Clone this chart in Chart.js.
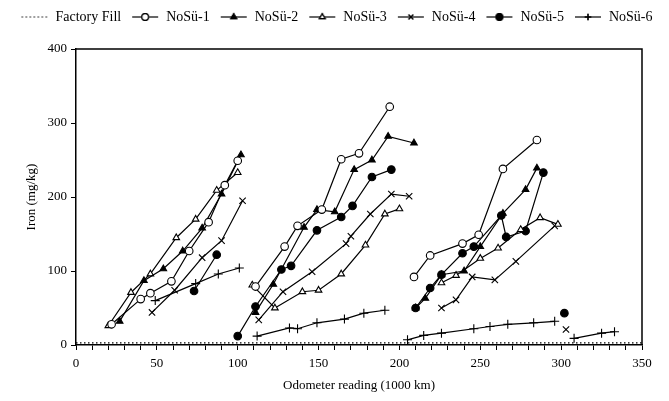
<!DOCTYPE html>
<html>
<head>
<meta charset="utf-8">
<script src="https://cdn.jsdelivr.net/npm/chart.js@4/dist/chart.umd.min.js"></script>
<style>
  html, body { margin: 0; padding: 0; background: #fff; }
  #wrap { width: 669px; height: 401px; }
</style>
</head>
<body>
<div id="wrap"><canvas id="chart" width="669" height="401"></canvas></div>
<script>
// values: [odometer (1000 km), iron (mg/kg)], null = break between oil fills
const factoryFill = [[0, 3], [350, 3]];
const nosu1 = [[22, 28], [40, 62], [46, 70], [59, 86], [70, 127], [82, 166], [92, 216], [100, 249], null,
  [111, 79], [129, 133], [137, 161], [152, 183], [164, 251], [175, 259], [194, 322], null,
  [209, 92], [219, 121], [239, 137], [249, 149], [264, 238], [285, 277]];
const nosu2 = [[27, 32], [42, 87], [54, 103], [66, 127], [78, 158], [90, 204], [102, 257], null,
  [111, 44], [122, 82], [141, 159], [149, 183], [160, 180], [172, 237], [183, 250], [193, 282], [209, 273], null,
  [210, 50], [216, 63], [226, 95], [240, 100], [250, 133], [264, 178], [278, 210], [285, 239]];
const nosu3 = [[20, 26], [34, 71], [46, 96], [62, 145], [74, 170], [87, 209], [100, 233], null,
  [109, 81], [123, 50], [140, 72], [150, 74], [164, 96], [179, 135], [191, 177], [200, 184], null,
  [226, 84], [235, 94], [250, 117], [261, 131], [275, 156], [287, 172], [298, 163]];
const nosu4 = [[47, 44], [61, 74], [78, 118], [90, 141], [103, 195], null,
  [113, 34], [128, 72], [146, 99], [167, 137], [170, 147], [182, 177], [195, 204], [206, 201], null,
  [226, 50], [235, 61], [245, 92], [259, 88], [272, 113], [296, 161], null,
  [303, 21]];
const nosu5 = [[73, 73], [87, 122], null,
  [100, 12], [111, 52], [127, 102], [133, 107], [149, 155], [164, 173], [171, 188], [183, 227], [195, 237], null,
  [210, 50], [219, 77], [226, 95], [239, 124], [246, 133], [263, 175], [266, 146], [278, 154], [289, 233], null,
  [302, 43]];
const nosu6 = [[49, 60], [74, 83], [88, 96], [101, 104], null,
  [112, 12], [132, 23], [137, 22], [149, 30], [166, 35], [178, 43], [191, 47], null,
  [205, 7], [215, 13], [226, 16], [246, 22], [256, 25], [267, 28], [283, 30], [296, 32], null,
  [308, 9], [325, 16], [333, 18]];
const xTicks = [0, 50, 100, 150, 200, 250, 300, 350];
const yTicks = [0, 100, 200, 300, 400];

const FONT = '"Liberation Serif", "Times New Roman", serif';

// turn [x, y] pairs into points, nulls become gaps
const toPoints = (arr) => {
  let lastX = 0;
  return arr.map(p => {
    if (p === null) return { x: lastX, y: null };
    lastX = p[0];
    return { x: p[0], y: p[1] };
  });
};

const series = [
  { label: 'Factory Fill', data: factoryFill, style: false, fill: false, dash: [1.5, 2.5] },
  { label: 'NoSü-1', data: nosu1, style: 'circle', fill: false },
  { label: 'NoSü-2', data: nosu2, style: 'triangle', fill: true },
  { label: 'NoSü-3', data: nosu3, style: 'triangle', fill: false },
  { label: 'NoSü-4', data: nosu4, style: 'crossRot', fill: false },
  { label: 'NoSü-5', data: nosu5, style: 'circle', fill: true },
  { label: 'NoSü-6', data: nosu6, style: 'cross', fill: false }
];

const markerRadius = (s) => (s.style === 'cross' || s.style === 'crossRot') ? 4.5 : 3.8;

// little line + marker picture for the legend
const legendSample = (s) => {
  const c = document.createElement('canvas');
  c.width = 28; c.height = 12;
  const g = c.getContext('2d');
  g.strokeStyle = '#000';
  g.lineWidth = 1.2;
  if (s.dash) g.setLineDash(s.dash);
  g.beginPath(); g.moveTo(1, 6); g.lineTo(27, 6); g.stroke();
  g.setLineDash([]);
  if (s.style) {
    Chart.helpers.drawPoint(g, {
      pointStyle: s.style, radius: 3.3, rotation: 0, borderWidth: 1.1
    }, 14, 6);
    g.fillStyle = s.fill ? '#000' : '#fff';
    g.fill();
    g.stroke();
  }
  return c;
};

const datasets = series.map(s => ({
  label: s.label,
  data: toPoints(s.data),
  borderColor: '#000',
  borderWidth: 1.2,
  borderDash: s.dash || [],
  backgroundColor: s.fill ? '#000' : '#fff',
  pointStyle: s.style || false,
  pointRadius: s.style ? markerRadius(s) : 0,
  pointBorderWidth: 1.1,
  pointBorderColor: '#000',
  pointBackgroundColor: s.fill ? '#000' : '#fff',
  pointHoverRadius: 0,
  spanGaps: false,
  tension: 0,
  fill: false,
  legendImage: legendSample(s)
}));

// top and right border of the plot frame
const frame = {
  id: 'frame',
  afterDraw(chart) {
    const { ctx, chartArea: a } = chart;
    ctx.save();
    ctx.strokeStyle = '#000';
    ctx.lineWidth = 1.5;
    ctx.beginPath();
    ctx.moveTo(a.left, a.top);
    ctx.lineTo(a.right, a.top);
    ctx.lineTo(a.right, a.bottom);
    ctx.stroke();
    ctx.restore();
  }
};

// fixed legend height so the plot top lands where it should
const legendHeight = {
  id: 'legendHeight',
  beforeInit(chart) {
    const fit = chart.legend.fit;
    chart.legend.fit = function () {
      fit.call(this);
      this.height = 49;
    };
  }
};

new Chart(document.getElementById('chart'), {
  type: 'line',
  data: { datasets },
  plugins: [frame, legendHeight],
  options: {
    responsive: false,
    animation: false,
    layout: { padding: { left: 4, right: 0, top: 0, bottom: 4 } },
    plugins: {
      tooltip: { enabled: false },
      legend: {
        position: 'top',
        labels: {
          color: '#000',
          font: { family: FONT, size: 14 },
          usePointStyle: true,
          pointStyleWidth: 28,
          padding: 10,
          generateLabels(chart) {
            return chart.data.datasets.map((d, i) => ({
              text: d.label,
              pointStyle: d.legendImage,
              fillStyle: '#fff',
              strokeStyle: '#000',
              lineWidth: 0,
              hidden: false,
              datasetIndex: i,
              fontColor: '#000'
            }));
          }
        }
      }
    },
    scales: {
      x: {
        type: 'linear',
        min: 0,
        max: 350,
        afterBuildTicks(scale) {
          scale.ticks = [];
          for (let v = 0; v <= 350; v += 10) scale.ticks.push({ value: v });
        },
        ticks: {
          color: '#000',
          font: { family: FONT, size: 13 },
          autoSkip: false,
          maxRotation: 0,
          padding: 6,
          callback: (v) => xTicks.includes(v) ? String(v) : ''
        },
        grid: { drawOnChartArea: false, color: '#000', tickLength: 5, tickWidth: 1 },
        border: { display: true, color: '#000', width: 1.5 },
        title: { display: true, text: 'Odometer reading (1000 km)', color: '#000', font: { family: FONT, size: 13 }, padding: { top: 11 } },
        afterFit(scale) { scale.height = 52; }
      },
      y: {
        type: 'linear',
        min: 0,
        max: 400,
        afterBuildTicks(scale) { scale.ticks = yTicks.map(v => ({ value: v })); },
        ticks: { color: '#000', font: { family: FONT, size: 13 }, padding: 4 },
        grid: { drawOnChartArea: false, color: '#000', tickLength: 5 },
        border: { display: true, color: '#000', width: 1.5 },
        title: { display: true, text: 'Iron (mg/kg)', color: '#000', font: { family: FONT, size: 13 }, padding: { top: 20, bottom: 4 } },
        afterFit(scale) { scale.width = 72; }
      },
      // empty right-hand strip, keeps the plot off the right edge
      yRight: {
        type: 'linear',
        position: 'right',
        display: true,
        min: 0,
        max: 400,
        ticks: { display: false },
        grid: { display: false },
        border: { display: false },
        afterFit(scale) { scale.width = 27; }
      }
    }
  }
});
</script>
</body>
</html>
